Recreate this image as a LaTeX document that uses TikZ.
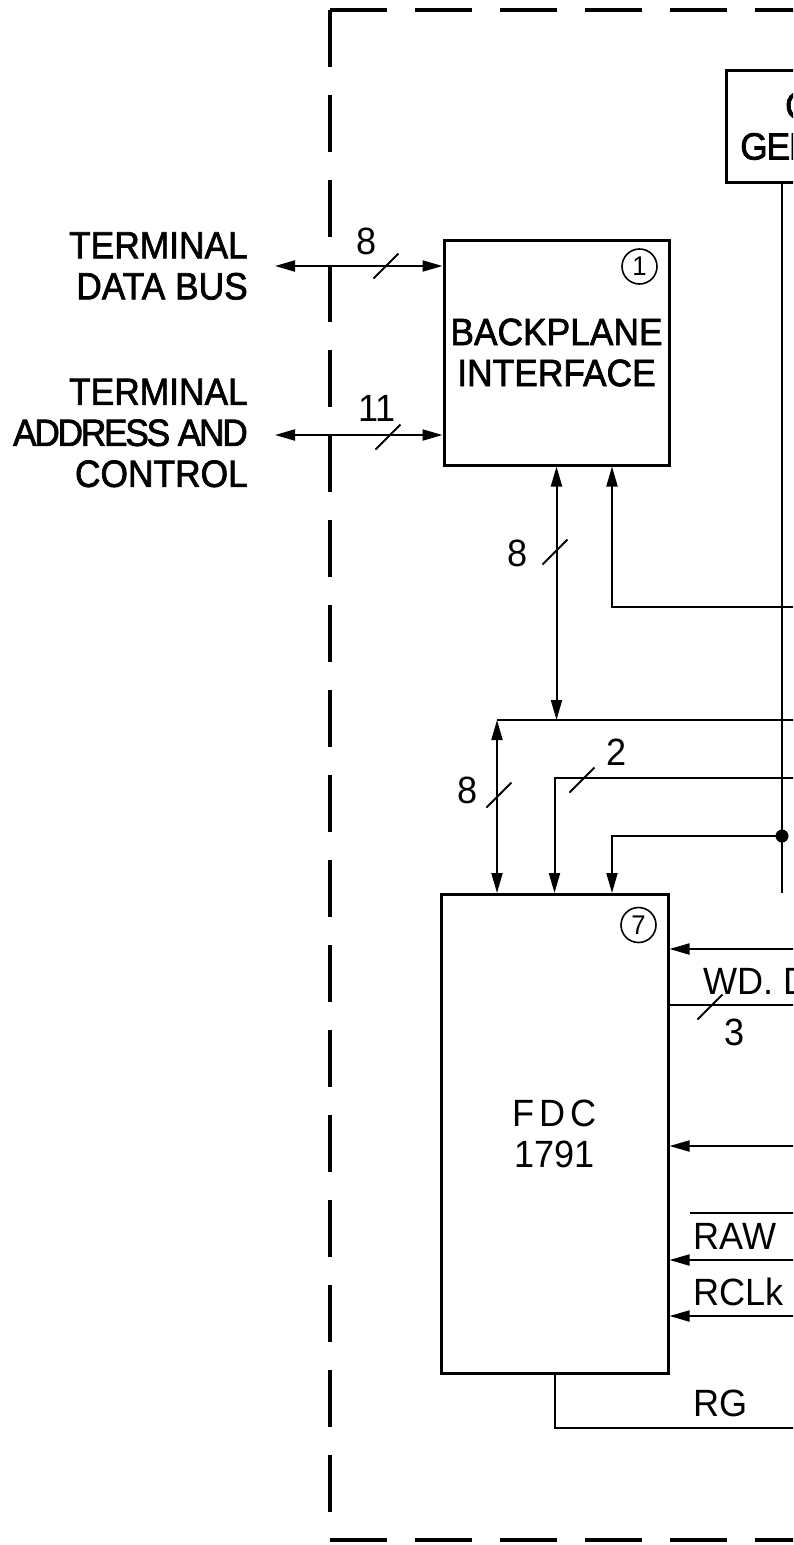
\documentclass[tikz,border=0pt]{standalone}
\usepackage{fontspec}
\newfontfamily\lettering[FakeStretch=0.95]{Liberation Sans}
\newfontfamily\heavylettering[FakeStretch=0.93,FakeBold=1.8]{Liberation Sans}
\usetikzlibrary{arrows.meta,positioning,calc}

\tikzset{
  lbl/.style={font=\lettering\fontsize{38}{41}\selectfont,inner sep=0pt},
  heavy/.style={font=\heavylettering\fontsize{38}{41}\selectfont,inner sep=0pt},
  blockbox/.style={draw,line width=3pt,inner sep=0pt,align=center},
  tag/.style={draw,circle,line width=1.6pt,inner sep=0pt,minimum size=35pt,
    font=\lettering\fontsize{27}{28}\selectfont},
  sig/.style={line width=2pt},
  into/.style={sig,-{Triangle[length=20pt,width=11pt]}},
  both/.style={sig,{Triangle[length=20pt,width=11pt]}-{Triangle[length=20pt,width=11pt]}},
  slash/.style={line width=1.8pt},
}

\begin{document}
\begin{tikzpicture}[x=1pt,y=-1pt]
  \useasboundingbox (0,0) rectangle (793,1545);
  \clip (0,0) rectangle (793,1545);
  % card outline
  \begin{scope}[line width=3.2pt,dash pattern=on 57pt off 28pt]
    \draw (330,10) -- (800,10); \draw (330,10) -- (330,1540); \draw (330,1540) -- (800,1540);
  \end{scope}

  % blocks
  \node[blockbox,heavy,minimum width=225pt,minimum height=225pt] (bpi) at (556.5,352.5) {BACKPLANE\\INTERFACE};
  \node[blockbox,lbl,minimum width=227pt,minimum height=479pt] (fdc) at (554.5,1134)
    {\addfontfeatures{LetterSpace=12}FDC\\1791};
  \node[blockbox,heavy,minimum width=240pt,minimum height=112pt] (clk) at (846,126)
    {CLOCK\\\addfontfeatures{LetterSpace=-3}GENERATOR};
  \node[tag] at ([xshift=-31pt,yshift=-28pt]bpi.north east) {1};
  \node[tag] at ([xshift=-31pt,yshift=-32pt]fdc.north east) {7};

  % terminal side
  \node[heavy,align=right,anchor=east] (tdb) at (248,266) {TERMINAL\\DATA BUS};
  \node[heavy,align=right,anchor=east] (tac) at (248,433)
    {TERMINAL\\{\addfontfeatures{LetterSpace=-6}ADDRESS AND}\\CONTROL};
  \coordinate (tdbend) at (275,266);
  \coordinate (tacend) at (275,435);
  \draw[both] (tdbend) -- (tdbend -| bpi.west);
  \draw[both] (tacend) -- (tacend -| bpi.west);

  % internal bus
  \coordinate (busL) at (497,720); \coordinate (busR) at (800,720);
  \coordinate (ctlA) at (800,607); \coordinate (selR) at (800,778);
  \coordinate (clkdot) at (782,836);
  \draw[sig] (busL) -- (busR);
  \draw[both] (bpi.south) -- (bpi.south |- busL);
  \draw[into] (ctlA) -| ([xshift=55.5pt]bpi.south);
  \draw[both] (busL) -- (busL |- fdc.north);
  \draw[into] (selR) -| (fdc.north);
  \draw[into] (clkdot) -| ([xshift=57.5pt]fdc.north);
  \draw[sig] (clk.south west -| clkdot) -- (clkdot |- fdc.north);
  \fill (clkdot) circle (6.5);

  % drive side
  \foreach \yy in {949,1146,1260,1316}{
    \coordinate (in\yy) at (800,\yy);
    \draw[into] (in\yy) -- (in\yy -| fdc.east);
  }
  \coordinate (wdR) at (800,1005); \coordinate (rgR) at (800,1428);
  \draw[sig] (wdR) -- (wdR -| fdc.east);
  \draw[sig] (fdc.south) |- (rgR);
  \draw[sig] (690,1213) -- (800,1213);

  % labels
  \node[lbl] (w8a) at (367,241) {8};
  \node[lbl] (w11) at (377,408) {11};
  \node[lbl] (w8b) at (518,553) {8};
  \node[lbl] (w8c) at (468,790) {8};
  \node[lbl] (w2) at (617,752) {2};
  \node[lbl] (w3) at (735,1032) {3};
  \node[lbl,anchor=west] (wd) at (703,981) {WD.~D};
  \node[lbl,anchor=west] (raw) at (693,1236) {RAW};
  \node[lbl,anchor=west] (rclk) at (693,1292) {RCLk};
  \node[lbl,anchor=west] (rg) at (693,1403) {RG};

  % bus width marks
  \foreach \sx/\sy in {386/266, 388/437, 555/552, 499/795, 582/780, 710/1007}
    \draw[slash] (\sx-12.5,\sy+12.5) -- (\sx+12.5,\sy-12.5);
\end{tikzpicture}
\end{document}
